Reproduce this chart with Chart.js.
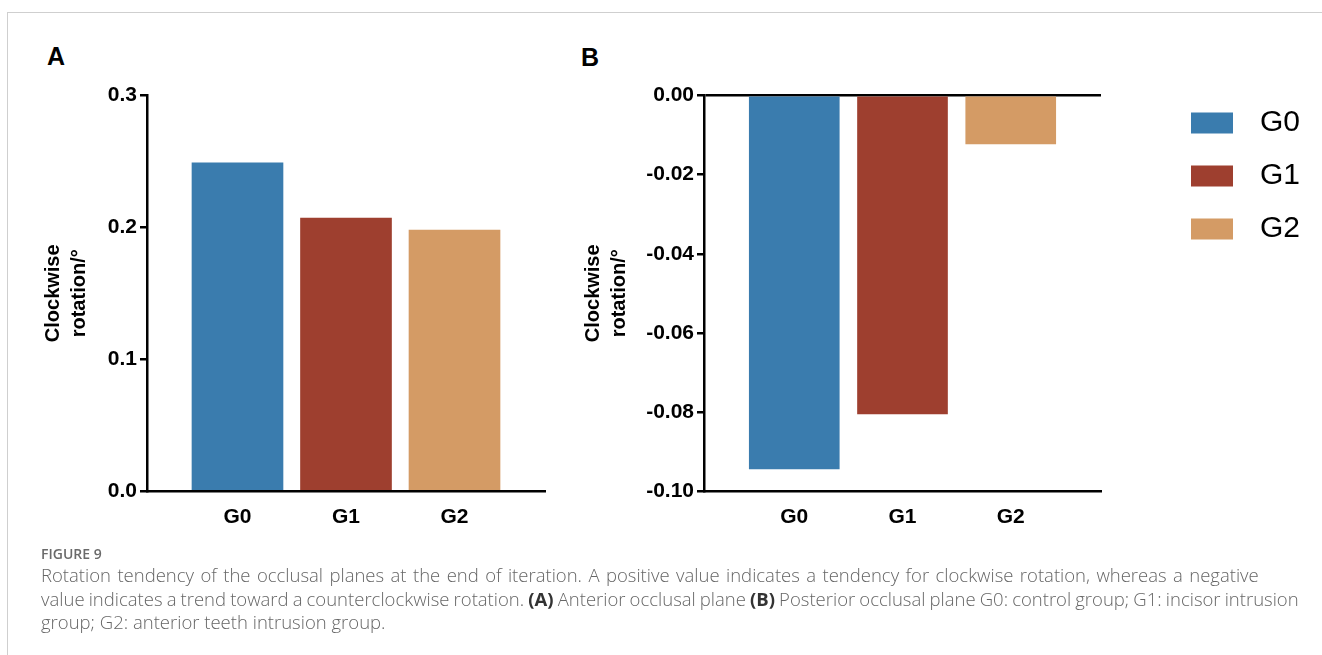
<!DOCTYPE html>
<html>
<head>
<meta charset="utf-8">
<script src="https://cdn.jsdelivr.net/npm/chart.js@4.4.0/dist/chart.umd.min.js"></script>
<style>
body{margin:0;background:#fff;width:1322px;height:655px;overflow:hidden;position:relative;font-family:"Liberation Sans",Arial,sans-serif;}
#frame{position:absolute;left:7px;top:12px;width:1330px;height:660px;border-top:1px solid #cfcfcf;border-left:1px solid #cfcfcf;}
.panel{position:absolute;font-weight:bold;font-size:25px;color:#000;}
#wrapA{position:absolute;left:0;top:80px;}
#wrapB{position:absolute;left:508px;top:80px;}
#caption{position:absolute;left:41px;top:545px;color:#666;font-family:"Open Sans",sans-serif;}
#caption .fig{font-size:14px;font-weight:600;color:#6a6a6a;line-height:18px;}
#caption .txt{font-size:18.5px;font-weight:300;line-height:23.5px;white-space:nowrap;}
#caption b{color:#333;font-weight:700;}
</style>
</head>
<body>
<div id="frame"></div>
<div class="panel" style="left:47px;top:42px;">A</div>
<div class="panel" style="left:581px;top:43px;">B</div>
<div id="wrapA"><canvas id="chartA" width="560" height="470"></canvas></div>
<div id="wrapB"><canvas id="chartB" width="814" height="470"></canvas></div>
<div id="caption">
<div class="fig">FIGURE 9</div>
<div class="txt" style="word-spacing:1.6px;">Rotation tendency of the occlusal planes at the end of iteration. A positive value indicates a tendency for clockwise rotation, whereas a negative</div>
<div class="txt" style="word-spacing:-0.7px;">value indicates a trend toward a counterclockwise rotation. <b>(A)</b> Anterior occlusal plane <b>(B)</b> Posterior occlusal plane G0: control group; G1: incisor intrusion</div>
<div class="txt">group; G2: anterior teeth intrusion group.</div>
</div>
<script>
// data
const categories = ["G0", "G1", "G2"];
const barColors = ["#3a7cae", "#9e3f2f", "#d49b65"];
const valuesA = [0.249, 0.207, 0.198];
const valuesB = [-0.0944, -0.0805, -0.0122];
const ticksA = [0, 0.1, 0.2, 0.3];
const ticksB = [0, -0.02, -0.04, -0.06, -0.08, -0.10];
const yTitle = ["Clockwise", "rotation/°"];

const boldFont = {family: "'Liberation Sans', Arial, sans-serif", size: 21, weight: "bold"};

// x axis is linear so the side gaps can be set like the original
function xScale() {
	return {
		type: "linear",
		min: -0.834,
		max: 2.834,
		offset: false,
		grid: {display: false, drawTicks: false, offset: false},
		border: {display: true, color: "#000", width: 2.5},
		afterBuildTicks: (s) => { s.ticks = categories.map((c, i) => ({value: i})); },
		afterFit: (s) => { s.height = 50; },
		ticks: {
			autoSkip: false,
			maxRotation: 0,
			color: "#000",
			font: boldFont,
			padding: 14,
			callback: (v) => categories[v]
		}
	};
}

function yScale(min, max, tickList, digits, axisWidth, titlePad, zeroLine) {
	return {
		min: min,
		max: max,
		afterBuildTicks: (s) => { s.ticks = tickList.map((v) => ({value: v})); },
		afterFit: (s) => { s.width = axisWidth; },
		grid: {
			display: true,
			drawOnChartArea: zeroLine,
			drawTicks: true,
			tickLength: 7,
			tickColor: "#000",
			lineWidth: 2.5,
			color: (ctx) => (zeroLine && ctx.tick && ctx.tick.value === 0) ? "#000" : "rgba(0,0,0,0)"
		},
		border: {display: true, color: "#000", width: 2.5},
		ticks: {
			color: "#000",
			font: boldFont,
			padding: 3,
			callback: (v) => v.toFixed(digits)
		},
		title: {
			display: true,
			text: yTitle,
			color: "#000",
			font: {family: "'Liberation Sans', Arial, sans-serif", size: 20, weight: "bold", lineHeight: 1.3},
			padding: {top: titlePad, bottom: 0}
		}
	};
}

function barData(values, thickness) {
	return {
		datasets: [{
			data: values.map((v, i) => ({x: i, y: v})),
			backgroundColor: barColors,
			borderWidth: 0,
			barThickness: thickness
		}]
	};
}

new Chart(document.getElementById("chartA"), {
	type: "bar",
	data: barData(valuesA, 91),
	options: {
		responsive: false,
		animation: false,
		devicePixelRatio: 1,
		layout: {padding: {left: 0, right: 15, top: 0, bottom: 9}},
		plugins: {legend: {display: false}, tooltip: {enabled: false}},
		scales: {
			x: xScale(),
			y: yScale(0, 0.3, ticksA, 1, 147, 40, false)
		}
	}
});

// canvas B is 814 wide: (814 - 22) / 2 / 3 boxes = 132px for the legend
new Chart(document.getElementById("chartB"), {
	type: "bar",
	data: barData(valuesB, 90),
	options: {
		responsive: false,
		animation: false,
		devicePixelRatio: 1,
		layout: {padding: {left: 0, right: 22, top: 5, bottom: 9}},
		plugins: {
			tooltip: {enabled: false},
			legend: {
				display: true,
				position: "right",
				align: "start",
				labels: {
					boxWidth: 42,
					boxHeight: 21,
					padding: 23,
					color: "#000",
					textAlign: "right",
					font: {family: "'Liberation Sans', Arial, sans-serif", size: 30},
					generateLabels: () => categories.map((c, i) => ({
						text: " " + c,
						fillStyle: barColors[i],
						strokeStyle: barColors[i],
						lineWidth: 0,
						hidden: false,
						index: i
					}))
				}
			}
		},
		scales: {
			x: xScale(),
			y: yScale(-0.1, 0, ticksB, 2, 196, 72, true),
			y2: {
				position: "right",
				display: true,
				grid: {display: false},
				border: {display: false},
				ticks: {display: false},
				afterFit: (s) => { s.width = 67; }
			}
		}
	}
});
</script>
</body>
</html>
